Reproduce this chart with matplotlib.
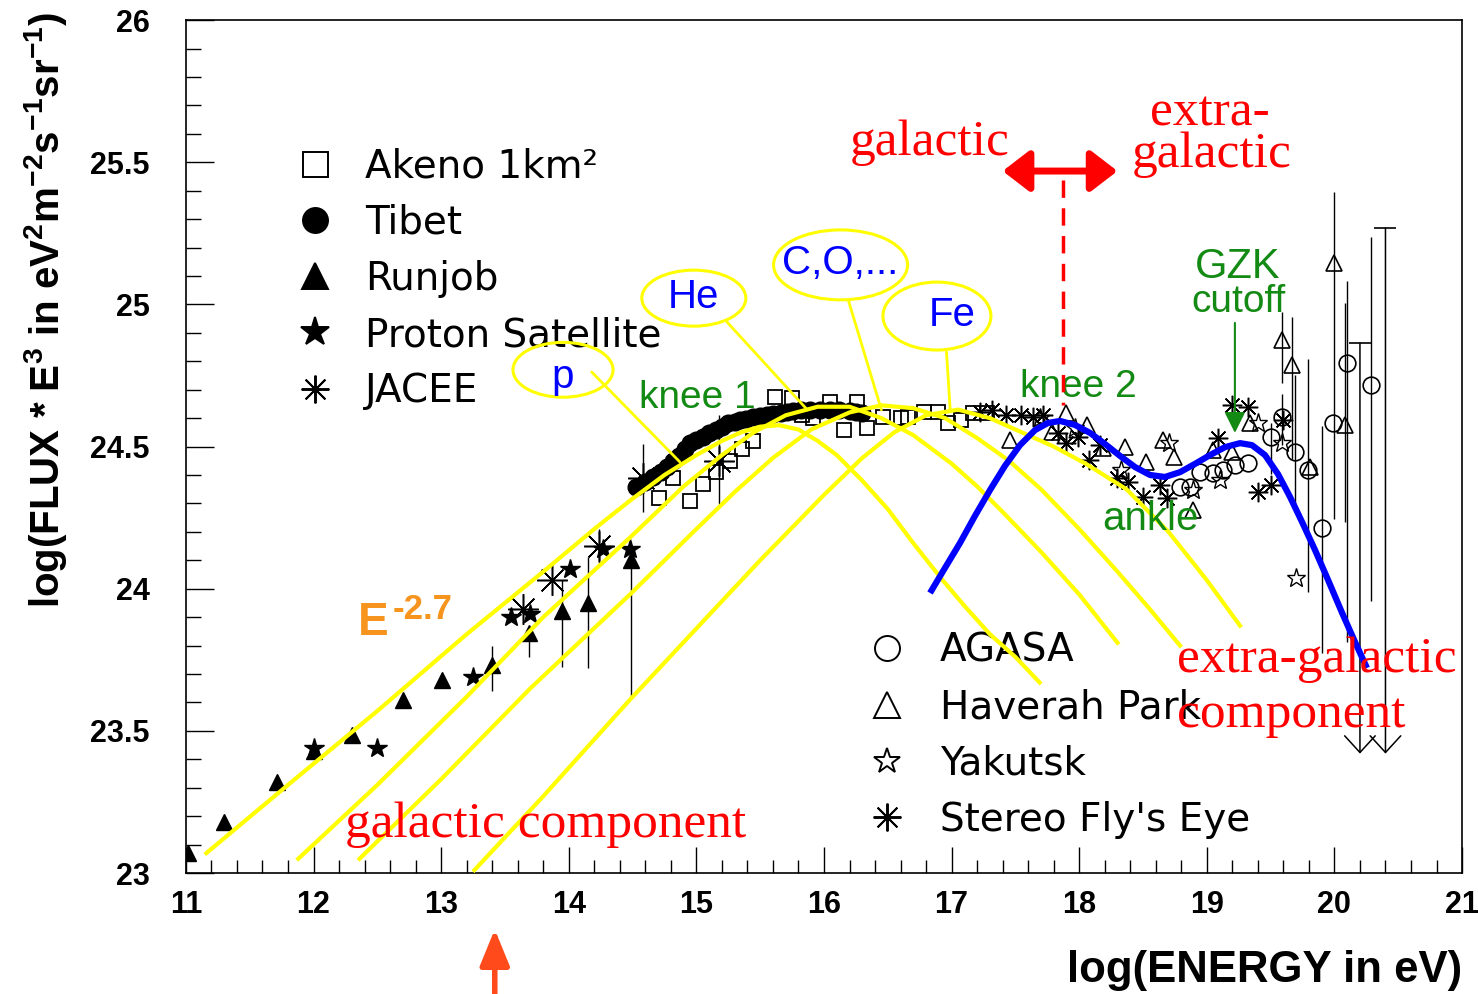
import matplotlib.pyplot as plt
import numpy as np
from matplotlib.lines import Line2D
from matplotlib.patches import Ellipse
from matplotlib.ticker import MultipleLocator, FuncFormatter

plt.rcParams['mathtext.default'] = 'regular'

# ---- low energy direct measurements ----
runjob_x = [11.02, 11.30, 11.71, 12.00, 12.30, 12.70, 13.01, 13.40, 13.69, 13.95, 14.15, 14.49]
runjob_y = [23.07, 23.18, 23.32, 23.43, 23.485, 23.61, 23.68, 23.73, 23.845, 23.92, 23.95, 24.10]
runjob_elo = [0, 0, 0, 0, 0, 0, 0, 0.09, 0.085, 0.195, 0.23, 0.48]
runjob_ehi = [0, 0, 0, 0, 0, 0, 0, 0.07, 0.02, 0.11, 0.16, 0.05]

proton_x = [12.00, 12.50, 13.25, 13.55, 13.70, 14.01, 14.27, 14.48]
proton_y = [23.44, 23.44, 23.69, 23.90, 23.91, 24.07, 24.14, 24.14]

jacee_x = [13.64, 13.87, 14.24, 14.58, 15.18]
jacee_y = [23.93, 24.03, 24.15, 24.39, 24.45]
jacee_err = [0.0, 0.0, 0.06, 0.12, 0.16]

tibet_x = [14.53, 14.60, 14.66, 14.72, 14.77, 14.82, 14.86, 14.91, 14.95, 15.00,
           15.05, 15.10, 15.15, 15.20, 15.25, 15.30, 15.34, 15.39, 15.44, 15.50,
           15.55, 15.60, 15.66, 15.71, 15.76, 15.82, 15.89, 15.97, 16.05, 16.12,
           16.20, 16.25, 16.30]
tibet_y = [24.358, 24.375, 24.393, 24.410, 24.428, 24.448, 24.467, 24.490, 24.512, 24.523,
           24.534, 24.546, 24.558, 24.570, 24.583, 24.588, 24.593, 24.598, 24.604, 24.608,
           24.611, 24.614, 24.618, 24.621, 24.625, 24.627, 24.629, 24.629, 24.629, 24.627,
           24.625, 24.621, 24.618]

akeno_x = [14.71, 14.82, 14.95, 15.05, 15.15, 15.26, 15.36, 15.44, 15.62, 15.75,
           15.83, 15.91, 16.05, 16.16, 16.26, 16.34, 16.46, 16.60, 16.66, 16.78,
           16.89, 16.97, 17.07, 17.17, 17.28]
akeno_y = [24.32, 24.39, 24.31, 24.37, 24.41, 24.45, 24.49, 24.52, 24.674, 24.671,
           24.611, 24.600, 24.657, 24.558, 24.657, 24.565, 24.604, 24.600, 24.604, 24.622,
           24.622, 24.583, 24.593, 24.618, 24.618]

# ---- ultra high energy air shower arrays ----
flyseye_x = [17.22, 17.32, 17.43, 17.54, 17.64, 17.72, 17.83, 17.90, 17.99, 18.08,
             18.16, 18.30, 18.38, 18.50, 18.63, 18.69, 19.09, 19.20, 19.32, 19.40,
             19.50, 19.60]
flyseye_y = [24.62, 24.629, 24.611, 24.611, 24.604, 24.611, 24.548, 24.512, 24.534, 24.453,
             24.505, 24.389, 24.375, 24.323, 24.365, 24.319, 24.530, 24.646, 24.639, 24.340,
             24.365, 24.593]

haverah_x = [17.46, 17.79, 17.90, 18.06, 18.19, 18.36, 18.52, 18.66, 18.74, 18.89,
             19.05, 19.20, 19.34, 19.59, 19.67, 19.81, 20.00, 20.08]
haverah_y = [24.523, 24.551, 24.618, 24.576, 24.495, 24.498, 24.446, 24.523, 24.463, 24.277,
             24.488, 24.481, 24.583, 24.875, 24.787, 24.428, 25.146, 24.576]
haverah_elo = [0, 0, 0, 0, 0, 0, 0, 0, 0, 0, 0, 0, 0, 0.15, 0.33, 0, 0.90, 0.34]
haverah_ehi = [0, 0, 0, 0, 0, 0, 0, 0, 0, 0, 0, 0, 0, 0.10, 0.17, 0, 0.25, 0.43]

agasa_x = [18.79, 18.87, 18.95, 19.05, 19.13, 19.22, 19.32, 19.50, 19.59, 19.69,
           19.79, 19.90, 19.99, 20.10, 20.29]
agasa_y = [24.358, 24.358, 24.410, 24.407, 24.418, 24.435, 24.442, 24.534, 24.604, 24.481,
           24.418, 24.214, 24.583, 24.794, 24.716]
agasa_elo = [0, 0, 0, 0, 0, 0, 0, 0.13, 0.10, 0.21, 0.43, 0.44, 0.0, 0.98, 0.76]
agasa_ehi = [0, 0, 0, 0, 0, 0, 0, 0.05, 0.08, 0.27, 0.39, 0.36, 0.0, 0.29, 0.52]

agasa_ul_x = [20.20, 20.40]
agasa_ul_top = [24.864, 25.269]
agasa_ul_bottom = [23.42, 23.42]

yakutsk_x = [17.69, 17.97, 18.33, 18.70, 18.89, 19.10, 19.40, 19.59, 19.70]
yakutsk_y = [24.60, 24.565, 24.418, 24.512, 24.347, 24.382, 24.583, 24.512, 24.038]

# ---- model components ----
p_x = [11.16, 11.8, 12.5, 13.2, 13.8, 14.2, 14.48, 14.75, 15.0, 15.2, 15.35, 15.5, 15.65,
       15.8, 15.95, 16.1, 16.3, 16.5, 16.7, 16.93, 17.1, 17.3, 17.5, 17.69]
p_y = [23.07, 23.31, 23.57, 23.84, 24.06, 24.21, 24.31, 24.40, 24.47, 24.52, 24.55, 24.57, 24.575,
       24.56, 24.52, 24.47, 24.38, 24.28, 24.16, 24.03, 23.94, 23.84, 23.76, 23.67]

he_x = [11.88, 12.5, 13.2, 13.8, 14.48, 14.9, 15.2, 15.45, 15.7, 15.95, 16.2, 16.45, 16.7,
        17.0, 17.2, 17.4, 17.7, 18.0, 18.3]
he_y = [23.05, 23.31, 23.62, 23.90, 24.18, 24.36, 24.47, 24.55, 24.61, 24.64, 24.64, 24.60, 24.54,
        24.44, 24.36, 24.27, 24.13, 23.98, 23.81]

cno_x = [12.36, 13.0, 13.7, 14.48, 15.0, 15.3, 15.6, 15.9, 16.2, 16.45, 16.7, 16.95, 17.2,
         17.45, 17.7, 18.0, 18.3, 18.55, 18.79]
cno_y = [23.05, 23.33, 23.65, 23.98, 24.21, 24.34, 24.46, 24.56, 24.62, 24.645, 24.635, 24.60, 24.53,
         24.45, 24.35, 24.21, 24.06, 23.93, 23.80]

fe_x = [13.26, 13.8, 14.48, 15.0, 15.5, 16.0, 16.3, 16.55, 16.8, 17.05, 17.3, 17.55, 17.8,
        18.05, 18.37, 18.7, 19.0, 19.26]
fe_y = [23.01, 23.27, 23.61, 23.86, 24.10, 24.33, 24.46, 24.55, 24.61, 24.63, 24.60, 24.55, 24.50,
        24.44, 24.35, 24.20, 24.03, 23.87]

xgal_x = [16.831, 16.948, 17.066, 17.183, 17.301, 17.418, 17.536, 17.654, 17.755, 17.850,
          17.967, 18.085, 18.202, 18.320, 18.437, 18.555, 18.672, 18.790, 18.907, 19.025,
          19.143, 19.260, 19.354, 19.456, 19.558, 19.652, 19.746, 19.848, 19.950, 20.060,
          20.161, 20.255]
xgal_y = [23.985, 24.073, 24.161, 24.256, 24.347, 24.432, 24.505, 24.558, 24.583, 24.590,
          24.576, 24.548, 24.509, 24.467, 24.428, 24.400, 24.393, 24.410, 24.439, 24.470,
          24.498, 24.512, 24.505, 24.470, 24.403, 24.323, 24.235, 24.136, 24.031, 23.915,
          23.813, 23.721]

YELLOW = '#ffff00'
GREEN = '#138a13'
BLUE = '#0000ff'
RED = '#ff0000'
ORANGE = '#f7941d'

fig = plt.figure(figsize=(14.78, 9.94), dpi=100)
ax = fig.add_axes([0.1258, 0.1217, 0.8634, 0.8581])

ax.set_xlim(11, 21)
ax.set_ylim(23, 26)

eb = dict(fmt='none', ecolor='black', elinewidth=1.0, capsize=0, zorder=2)
ax.errorbar(runjob_x, runjob_y, yerr=[runjob_elo, runjob_ehi], **eb)
ax.errorbar(jacee_x, jacee_y, yerr=jacee_err, **eb)
ax.errorbar(haverah_x, haverah_y, yerr=[haverah_elo, haverah_ehi], **eb)
ax.errorbar(agasa_x, agasa_y, yerr=[agasa_elo, agasa_ehi], **eb)

ax.plot(akeno_x, akeno_y, 's', ms=10, mfc='none', mec='black', mew=1.3, zorder=2)
ax.plot(tibet_x, tibet_y, 'o', ms=12, color='black', zorder=2)
ax.plot(runjob_x, runjob_y, '^', ms=12, color='black', zorder=2)
ax.plot(proton_x, proton_y, '*', ms=15, color='black', zorder=2)
ax.plot(jacee_x, jacee_y, marker=(8, 2, 0), ls='none', ms=22, mec='black', mew=1.1, zorder=2)
ax.plot(flyseye_x, flyseye_y, marker=(8, 2, 0), ls='none', ms=14, mec='black', mew=1.1, zorder=2)
ax.plot(haverah_x, haverah_y, '^', ms=12, mfc='none', mec='black', mew=1.2, zorder=2)
ax.plot(agasa_x, agasa_y, 'o', ms=12, mfc='none', mec='black', mew=1.2, zorder=2)
ax.plot(yakutsk_x, yakutsk_y, '*', ms=14, mfc='none', mec='black', mew=1.0, zorder=2)

# AGASA upper limits
ax.plot(agasa_ul_x, agasa_ul_top, '_', ms=16, mew=1.2, color='black', zorder=2)
for xu, top, bot in zip(agasa_ul_x, agasa_ul_top, agasa_ul_bottom):
    ax.annotate('', xy=(xu, bot), xytext=(xu, top),
                arrowprops=dict(arrowstyle='->,head_length=1.2,head_width=1.1',
                                color='black', lw=1.1, shrinkA=0, shrinkB=0,
                                mutation_scale=10), zorder=2)

# galactic components
for cx, cy in [(p_x, p_y), (he_x, he_y), (cno_x, cno_y), (fe_x, fe_y)]:
    ax.plot(cx, cy, color=YELLOW, lw=3.0, zorder=3, solid_joinstyle='round')

# extra-galactic component
ax.plot(xgal_x, xgal_y, color=BLUE, lw=4.5, zorder=4, solid_capstyle='butt',
        solid_joinstyle='round')

# element labels in ellipses
elements = [('p', 13.955, 24.77, 0.784, 0.193, (14.18, 24.762), (14.87, 24.446)),
            ('He', 14.98, 25.022, 0.815, 0.197, (15.24, 24.938), (15.87, 24.629)),
            ('C,O,...', 16.13, 25.139, 1.05, 0.246, (16.19, 25.016), (16.45, 24.629)),
            ('Fe', 16.885, 24.959, 0.846, 0.239, (16.96, 24.833), (16.99, 24.622))]
for name, ex, ey, ew, eh, start, end in elements:
    ax.add_patch(Ellipse((ex, ey), ew, eh, fill=False, ec=YELLOW, lw=2.2, zorder=5))
    ax.annotate('', xy=end, xytext=start,
                arrowprops=dict(arrowstyle='-', color=YELLOW, lw=2.0,
                                shrinkA=0, shrinkB=0), zorder=3)
    tx = ex + (0.12 if name == 'Fe' else 0.0)
    ty = ey - 0.025 if name == 'p' else ey + 0.005
    ax.text(tx, ty, name, color=BLUE, fontsize=29, family='Liberation Sans',
            ha='center', va='center', zorder=6)

# green annotations
gkw = dict(color=GREEN, family='Liberation Sans', ha='center', va='center', zorder=6)
ax.text(15.005, 24.67, 'knee 1', fontsize=28, **gkw)
ax.text(17.99, 24.71, 'knee 2', fontsize=28, **gkw)
ax.text(18.555, 24.245, 'ankle', fontsize=29, **gkw)
ax.text(19.245, 25.13, 'GZK', fontsize=30, **gkw)
ax.text(19.245, 25.008, 'cutoff', fontsize=28, **gkw)
ax.annotate('', xy=(19.22, 24.548), xytext=(19.22, 24.935),
            arrowprops=dict(arrowstyle='-|>,head_length=0.9,head_width=0.45', color=GREEN,
                            lw=1.5, shrinkA=0, shrinkB=0, mutation_scale=14), zorder=6)

# red annotations
rkw = dict(color=RED, family='Liberation Serif', fontsize=37, zorder=6)
ax.text(16.83, 25.568, 'galactic', ha='center', va='center', **rkw)
ax.text(19.025, 25.673, 'extra-', ha='center', va='center', **rkw)
ax.text(19.04, 25.525, 'galactic', ha='center', va='center', **rkw)
ax.text(13.82, 23.17, 'galactic component', ha='center', va='center', **rkw)
ax.text(18.77, 23.75, 'extra-galactic', ha='left', va='center', **rkw)
ax.text(18.77, 23.556, 'component', ha='left', va='center', **rkw)
ax.annotate('', xy=(18.30, 25.469), xytext=(17.40, 25.469),
            arrowprops=dict(arrowstyle='<|-|>,head_length=0.65,head_width=0.5', color=RED,
                            lw=5, shrinkA=0, shrinkB=0, mutation_scale=25), zorder=6)
ax.plot([17.87, 17.87], [25.438, 24.646], color=RED, lw=2.5, ls=(0, (5, 3)), zorder=6)

ax.text(12.35, 23.837, 'E', color=ORANGE, fontsize=33, fontweight='bold',
        family='Liberation Sans', ha='left', va='baseline', zorder=6)
ax.text(12.62, 23.895, '-2.7', color=ORANGE, fontsize=25, fontweight='bold',
        family='Liberation Sans', ha='left', va='baseline', zorder=6)

ax.annotate('', xy=(13.42, -0.066), xycoords=('data', 'axes fraction'),
            xytext=(13.42, -0.142), textcoords=('data', 'axes fraction'),
            arrowprops=dict(arrowstyle='-|>,head_length=1.1,head_width=0.45', color='#ff4a1c',
                            lw=4, shrinkA=0, shrinkB=0, mutation_scale=20),
            annotation_clip=False)

# legends
def proxy(marker, filled, ms):
    return Line2D([], [], ls='none', marker=marker, ms=ms, mec='black', mew=1.4,
                  mfc='black' if filled else 'none')

leg_font = dict(family='DejaVu Sans', size=28)
h1 = [proxy('s', False, 18), proxy('o', True, 18), proxy('^', True, 19),
      proxy('*', True, 21), proxy((8, 2, 0), False, 20)]
l1 = ['Akeno 1km²', 'Tibet', 'Runjob', 'Proton Satellite', 'JACEE']
leg1 = ax.legend(h1, l1, loc='upper left', bbox_to_anchor=(0.0858, 0.851), frameon=False,
                 prop=leg_font, handlelength=1.0, handletextpad=0.79, labelspacing=0.47,
                 borderpad=0, borderaxespad=0)
ax.add_artist(leg1)
h2 = [proxy('o', False, 18), proxy('^', False, 19), proxy('*', False, 19),
      proxy((8, 2, 0), False, 20)]
l2 = ['AGASA', 'Haverah Park', 'Yakutsk', "Stereo Fly's Eye"]
leg2 = ax.legend(h2, l2, loc='upper left', bbox_to_anchor=(0.5341, 0.2826), frameon=False,
                 prop=leg_font, handlelength=1.0, handletextpad=0.86, labelspacing=0.47,
                 borderpad=0, borderaxespad=0)
for leg in (leg1, leg2):
    leg.set_zorder(1)

# axes styling
ax.xaxis.set_major_locator(MultipleLocator(1))
ax.xaxis.set_minor_locator(MultipleLocator(0.2))
ax.yaxis.set_major_locator(MultipleLocator(0.5))
ax.yaxis.set_minor_locator(MultipleLocator(0.1))
ax.yaxis.set_major_formatter(FuncFormatter(lambda v, pos: '%g' % v))
ax.tick_params(axis='x', which='major', direction='in', length=18.5, width=1.0, pad=12,
               labelsize=22, top=False)
ax.tick_params(axis='x', which='minor', direction='in', length=9.5, width=1.0, top=False)
ax.tick_params(axis='y', which='major', direction='in', length=20, width=1.0, pad=26,
               labelsize=22, right=False)
ax.tick_params(axis='y', which='minor', direction='in', length=11, width=1.0, right=False)
for lab in ax.get_xticklabels() + ax.get_yticklabels():
    lab.set_fontweight('bold')
    lab.set_family('Liberation Sans')
for sp in ax.spines.values():
    sp.set_linewidth(1.2)

ax.set_xlabel('log(ENERGY in eV)', fontsize=31.5, fontweight='bold', family='Liberation Sans',
              ha='right')
ax.xaxis.set_label_coords(1.0, -0.09)
ax.set_ylabel(r'log(FLUX * E$^{3}$ in eV$^{2}$m$^{-2}$s$^{-1}$sr$^{-1}$)', fontsize=29,
              fontweight='bold', family='Liberation Sans')
ax.yaxis.set_label_coords(-0.092, 0.66)

fig.savefig('out.png', dpi=100)
